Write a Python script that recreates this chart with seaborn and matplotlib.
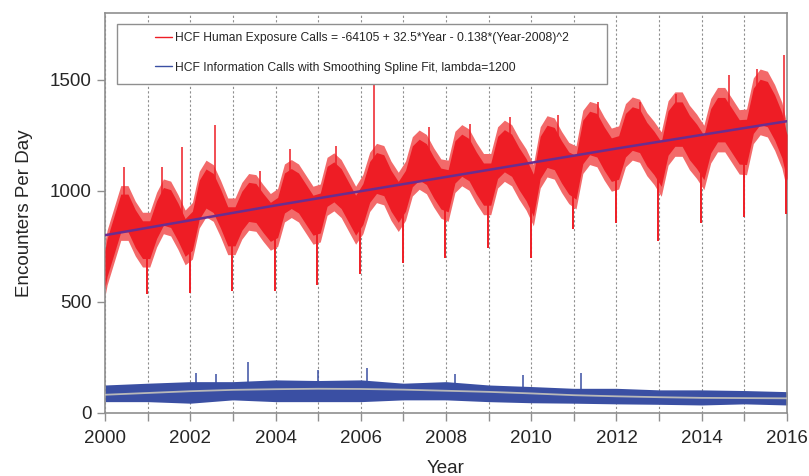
import numpy as np
import pandas as pd
import seaborn as sns
import matplotlib.pyplot as plt
from matplotlib.lines import Line2D
from matplotlib.patches import Rectangle

# --- data (values per day) ---
years = list(range(2000, 2016))
# within-year sample points (fraction of the year)
season_pos = [0.05, 0.21, 0.37, 0.54, 0.71, 0.88]

# human exposure calls, centre of the daily band
red_mid = [
    [700, 800, 900, 900, 830, 780],
    [780, 870, 930, 920, 860, 790],
    [820, 960, 1010, 990, 920, 840],
    [840, 910, 950, 945, 900, 860],
    [880, 990, 1010, 990, 940, 890],
    [900, 1020, 1040, 1010, 950, 890],
    [940, 1040, 1080, 1070, 1000, 950],
    [1000, 1110, 1140, 1120, 1060, 1010],
    [1000, 1130, 1160, 1140, 1080, 1030],
    [1030, 1150, 1180, 1160, 1100, 1050],
    [980, 1150, 1200, 1190, 1130, 1080],
    [1060, 1220, 1260, 1250, 1190, 1140],
    [1150, 1250, 1280, 1270, 1210, 1170],
    [1120, 1260, 1300, 1300, 1240, 1200],
    [1150, 1270, 1320, 1320, 1270, 1220],
    [1220, 1360, 1400, 1390, 1330, 1250],
]
# half width of the dense part of the band, per year
red_spread = [85, 85, 88, 88, 90, 90, 92, 92, 95, 95, 95, 98, 98, 100, 100, 102]
red_start = 650
red_end = 1150

# holiday dips at the turn of each year (2001 ... 2016)
dip_years = list(range(2001, 2017))
red_dips = [535, 540, 548, 548, 578, 625, 676, 699, 744, 699, 827, 857, 774, 857, 880, 895]

# tallest single days
peak_x = [2000.45, 2001.33, 2001.80, 2002.57, 2003.64, 2004.34, 2005.42, 2006.30,
          2007.60, 2008.57, 2009.50, 2010.63, 2011.56, 2012.54, 2013.40, 2014.65,
          2015.30, 2015.93]
peak_y = [1105, 1108, 1199, 1294, 1091, 1189, 1200, 1480,
          1286, 1302, 1332, 1340, 1400, 1400, 1437, 1520,
          1550, 1610]

# quadratic fit line
fit_years = [2000, 2004, 2008, 2012, 2016]
fit_vals = [800, 934, 1062, 1190, 1313]

# information calls
blue_years = list(range(2000, 2017))
blue_high = [126, 134, 141, 141, 149, 146, 149, 134, 141, 126, 119, 111, 111, 104, 104, 101, 96]
blue_low = [51, 51, 44, 59, 51, 51, 51, 59, 59, 51, 46, 44, 41, 39, 36, 41, 36]
blue_smooth = [82, 90, 98, 104, 107, 109, 108, 105, 100, 95, 88, 80, 75, 71, 68, 67, 66]
blue_spike_x = [2002.14, 2002.60, 2003.35, 2005.00, 2006.15, 2008.20, 2009.80, 2011.17]
blue_spike_y = [181, 175, 231, 194, 201, 175, 171, 181]

# --- tables ---
rows = [(2000.0, red_start, red_spread[0])]
for i, y in enumerate(years):
    for p, v in zip(season_pos, red_mid[i]):
        rows.append((y + p, v, red_spread[i]))
rows.append((2016.0, red_end, red_spread[-1]))
red = pd.DataFrame(rows, columns=['Year', 'Calls', 'Spread'])

blue = pd.DataFrame({'Year': blue_years, 'High': blue_high, 'Low': blue_low,
                     'Smooth': blue_smooth})

sns.set_theme(style='white')
plt.rcParams['font.family'] = ['Liberation Sans', 'DejaVu Sans']

fig, ax = plt.subplots(figsize=(8.09, 4.76), dpi=100)
fig.subplots_adjust(left=0.1298, right=0.9728, bottom=0.1324, top=0.9727)

red_light = '#f36a6a'
red_dark = '#ee1d25'
blue_col = '#3a4fa3'

# red daily band
ax.fill_between(red['Year'], red['Calls'] - 1.45 * red['Spread'],
                red['Calls'] + 1.45 * red['Spread'], color=red_light, lw=0, zorder=2)
ax.fill_between(red['Year'], red['Calls'] - red['Spread'],
                red['Calls'] + red['Spread'], color=red_dark, lw=0, zorder=3)
dip_x = np.array(dip_years) - 0.015
ax.vlines(dip_x, red_dips, np.interp(dip_x, red['Year'], red['Calls']),
          color=red_dark, lw=1.4, zorder=3)
ax.vlines(peak_x, np.interp(peak_x, red['Year'], red['Calls']), peak_y,
          color=red_dark, lw=1.1, zorder=3)

sns.lineplot(x=fit_years, y=fit_vals, color='#6a2d90', lw=1.8, ax=ax, zorder=4)

# blue daily band
ax.fill_between(blue['Year'], blue['Low'], blue['High'], color=blue_col, lw=0, zorder=2)
ax.vlines(blue_spike_x, np.interp(blue_spike_x, blue['Year'], blue['Smooth']),
          blue_spike_y, color=blue_col, lw=1.1, zorder=2)
sns.lineplot(data=blue, x='Year', y='Smooth', color='#b8b8b8', lw=1.3, ax=ax, zorder=4)

ax.set_xlim(2000, 2016)
ax.set_ylim(0, 1800)
ax.set_xticks(range(2000, 2017, 2))
ax.set_xticks(range(2001, 2016, 2), minor=True)
ax.set_yticks([0, 500, 1000, 1500])
ax.grid(False)
ax.grid(True, which='both', axis='x', color='#8f8f8f', lw=0.8, ls=(0, (2, 2)), zorder=1)

for s in ax.spines.values():
    s.set_color('#8f8f8f')
    s.set_linewidth(1.2)
ax.tick_params(which='both', direction='out', length=6, width=1, color='#8f8f8f',
               labelsize=13.5, bottom=True, left=True)
ax.tick_params(axis='x', which='both', pad=6.5)
ax.set_xlabel('Year', fontsize=13.5, labelpad=9)
ax.set_ylabel('Encounters Per Day', fontsize=13.5, labelpad=12)

# legend box
ax.add_patch(Rectangle((0.0176, 0.8225), 0.7185, 0.15, transform=ax.transAxes,
                       facecolor='white', edgecolor='#8f8f8f', lw=1, zorder=5))
handles = [Line2D([], [], color=red_dark, lw=1),
           Line2D([], [], color=blue_col, lw=1)]
labels = ['HCF Human Exposure Calls = -64105 + 32.5*Year - 0.138*(Year-2008)^2',
          'HCF Information Calls with Smoothing Spline Fit, lambda=1200']
leg = ax.legend(handles, labels, loc='upper left', bbox_to_anchor=(0.073, 0.952),
                frameon=False, fontsize=8.7, borderpad=0, borderaxespad=0,
                handlelength=1.4, handletextpad=0.25, labelspacing=1.45)
leg.set_zorder(6)

plt.savefig('out.png', dpi=100)
